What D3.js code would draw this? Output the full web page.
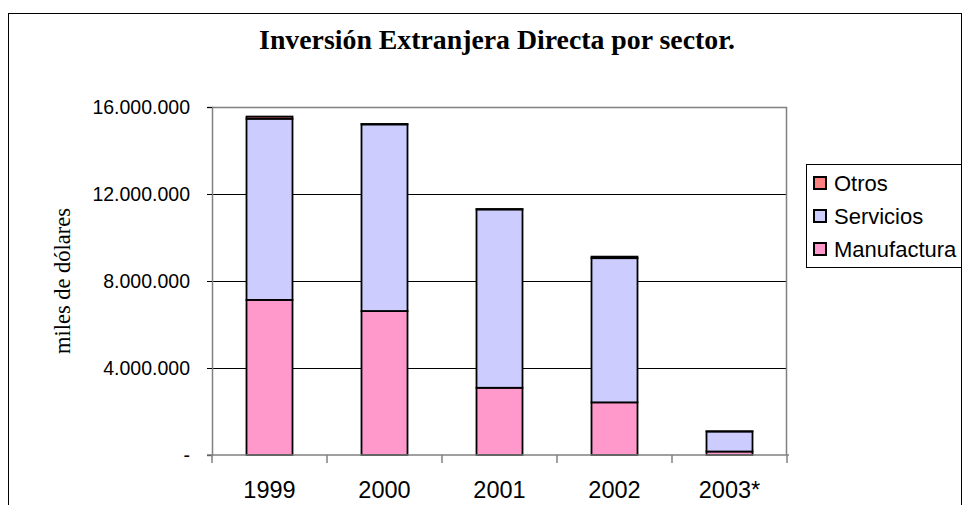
<!DOCTYPE html>
<html><head><meta charset="utf-8">
<script src="https://cdn.jsdelivr.net/npm/d3@7"></script>
<style>body{margin:0;background:#fff}svg{display:block}</style>
</head><body>
<svg id="c" width="967" height="505"></svg>
<script>
const categories = ["1999", "2000", "2001", "2002", "2003*"];
const manufactura = [7130000, 6620000, 3090000, 2420000, 160000];
const servicios   = [8330000, 8580000, 8200000, 6630000, 920000];
const otros       = [100000, 20000, 20000, 70000, 10000];
const seriesNames = ["Manufactura", "Servicios", "Otros"];
const seriesColors = ["#FF99CC", "#CCCCFF", "#FF8080"];
const yTickValues = [0, 4000000, 8000000, 12000000, 16000000];
const yTickLabels = ["-", "4.000.000", "8.000.000", "12.000.000", "16.000.000"];
const title = "Inversión Extranjera Directa por sector.";
const yTitle = "miles de dólares";

const svg = d3.select("#c");
const plot = {left: 212, top: 107, right: 787, bottom: 455};

// outer frame
svg.append("rect").attr("x", 8.5).attr("y", 13.5).attr("width", 953).attr("height", 520)
  .attr("fill", "none").attr("stroke", "#000").attr("stroke-width", 1);

svg.append("text").attr("x", 497).attr("y", 49).attr("text-anchor", "middle")
  .attr("font-family", "Liberation Serif, Times New Roman, serif").attr("font-weight", "bold")
  .attr("font-size", 27.8).text(title);

const x = d3.scaleBand().domain(categories).range([plot.left, plot.right])
  .paddingInner(0.6).paddingOuter(0.3);
const y = d3.scaleLinear().domain([0, 16000000]).range([plot.bottom, plot.top]);

// gridlines
svg.append("g").selectAll("line").data(yTickValues.slice(1, -1)).join("line")
  .attr("x1", plot.left).attr("x2", plot.right)
  .attr("y1", d => Math.round(y(d)) + 0.5).attr("y2", d => Math.round(y(d)) + 0.5)
  .attr("stroke", "#000").attr("stroke-width", 1);

// plot border top/right
svg.append("path").attr("d", `M${plot.left},${plot.top + 0.5}H${plot.right - 0.5}V${plot.bottom}`)
  .attr("fill", "none").attr("stroke", "#808080").attr("stroke-width", 1.5);

// stacked data
const rows = categories.map((c, i) => ({cat: c, Manufactura: manufactura[i], Servicios: servicios[i], Otros: otros[i]}));
const stack = d3.stack().keys(seriesNames)(rows);

svg.append("g").selectAll("g").data(stack).join("g")
  .attr("fill", (d, i) => seriesColors[i])
  .selectAll("rect").data(d => d).join("rect")
  .attr("x", d => x(d.data.cat))
  .attr("width", x.bandwidth())
  .attr("y", d => y(d[1]))
  .attr("height", d => y(d[0]) - y(d[1]))
  .attr("stroke", "#000").attr("stroke-width", 1.8);

// y axis
const yAxis = d3.axisLeft(y).tickValues(yTickValues)
  .tickFormat((d, i) => yTickLabels[i]).tickSizeOuter(0).tickSize(5).tickPadding(17);
const gy = svg.append("g").attr("transform", `translate(${plot.left},0)`).call(yAxis);
gy.select(".domain").attr("stroke", "#808080").attr("stroke-width", 1.5);
gy.selectAll(".tick line").attr("stroke", "#000");
gy.selectAll("text").attr("font-family", "Liberation Sans, Arial, sans-serif")
  .attr("font-size", 19.5).attr("fill", "#000");

// x axis with ticks at category boundaries
const gx = svg.append("g").attr("transform", `translate(0,${plot.bottom})`);
gx.append("line").attr("x1", plot.left - 5).attr("x2", plot.right + 2)
  .attr("y1", 0).attr("y2", 0).attr("stroke", "#808080").attr("stroke-width", 1.5);
const step = x.step();
const boundaries = d3.range(categories.length + 1).map(i => plot.left + i * step);
gx.selectAll("line.tk").data(boundaries).join("line").attr("class", "tk")
  .attr("x1", d => d).attr("x2", d => d).attr("y1", 0).attr("y2", 8)
  .attr("stroke", "#808080").attr("stroke-width", 1.5);
gx.selectAll("text").data(categories).join("text")
  .attr("x", d => x(d) + x.bandwidth() / 2).attr("y", 43)
  .attr("text-anchor", "middle")
  .attr("font-family", "Liberation Sans, Arial, sans-serif").attr("font-size", 23.5)
  .text(d => d);

// y title
svg.append("text").attr("transform", "translate(70,281) rotate(-90)")
  .attr("text-anchor", "middle")
  .attr("font-family", "Liberation Serif, Times New Roman, serif").attr("font-size", 22.5)
  .text(yTitle);

// legend
const lg = svg.append("g");
lg.append("rect").attr("x", 806.5).attr("y", 164.5).attr("width", 155).attr("height", 103)
  .attr("fill", "#fff").attr("stroke", "#000").attr("stroke-width", 1);
const legendItems = seriesNames.map((n, i) => ({name: n, color: seriesColors[i]})).reverse();
legendItems.forEach((it, i) => {
  const cy = 183 + i * 33;
  lg.append("rect").attr("x", 814).attr("y", cy - 6).attr("width", 12).attr("height", 12)
    .attr("fill", it.color).attr("stroke", "#000").attr("stroke-width", 2);
  lg.append("text").attr("x", 834).attr("y", cy + 7.5)
    .attr("font-family", "Liberation Sans, Arial, sans-serif").attr("font-size", 22)
    .text(it.name);
});
</script>
</body></html>
